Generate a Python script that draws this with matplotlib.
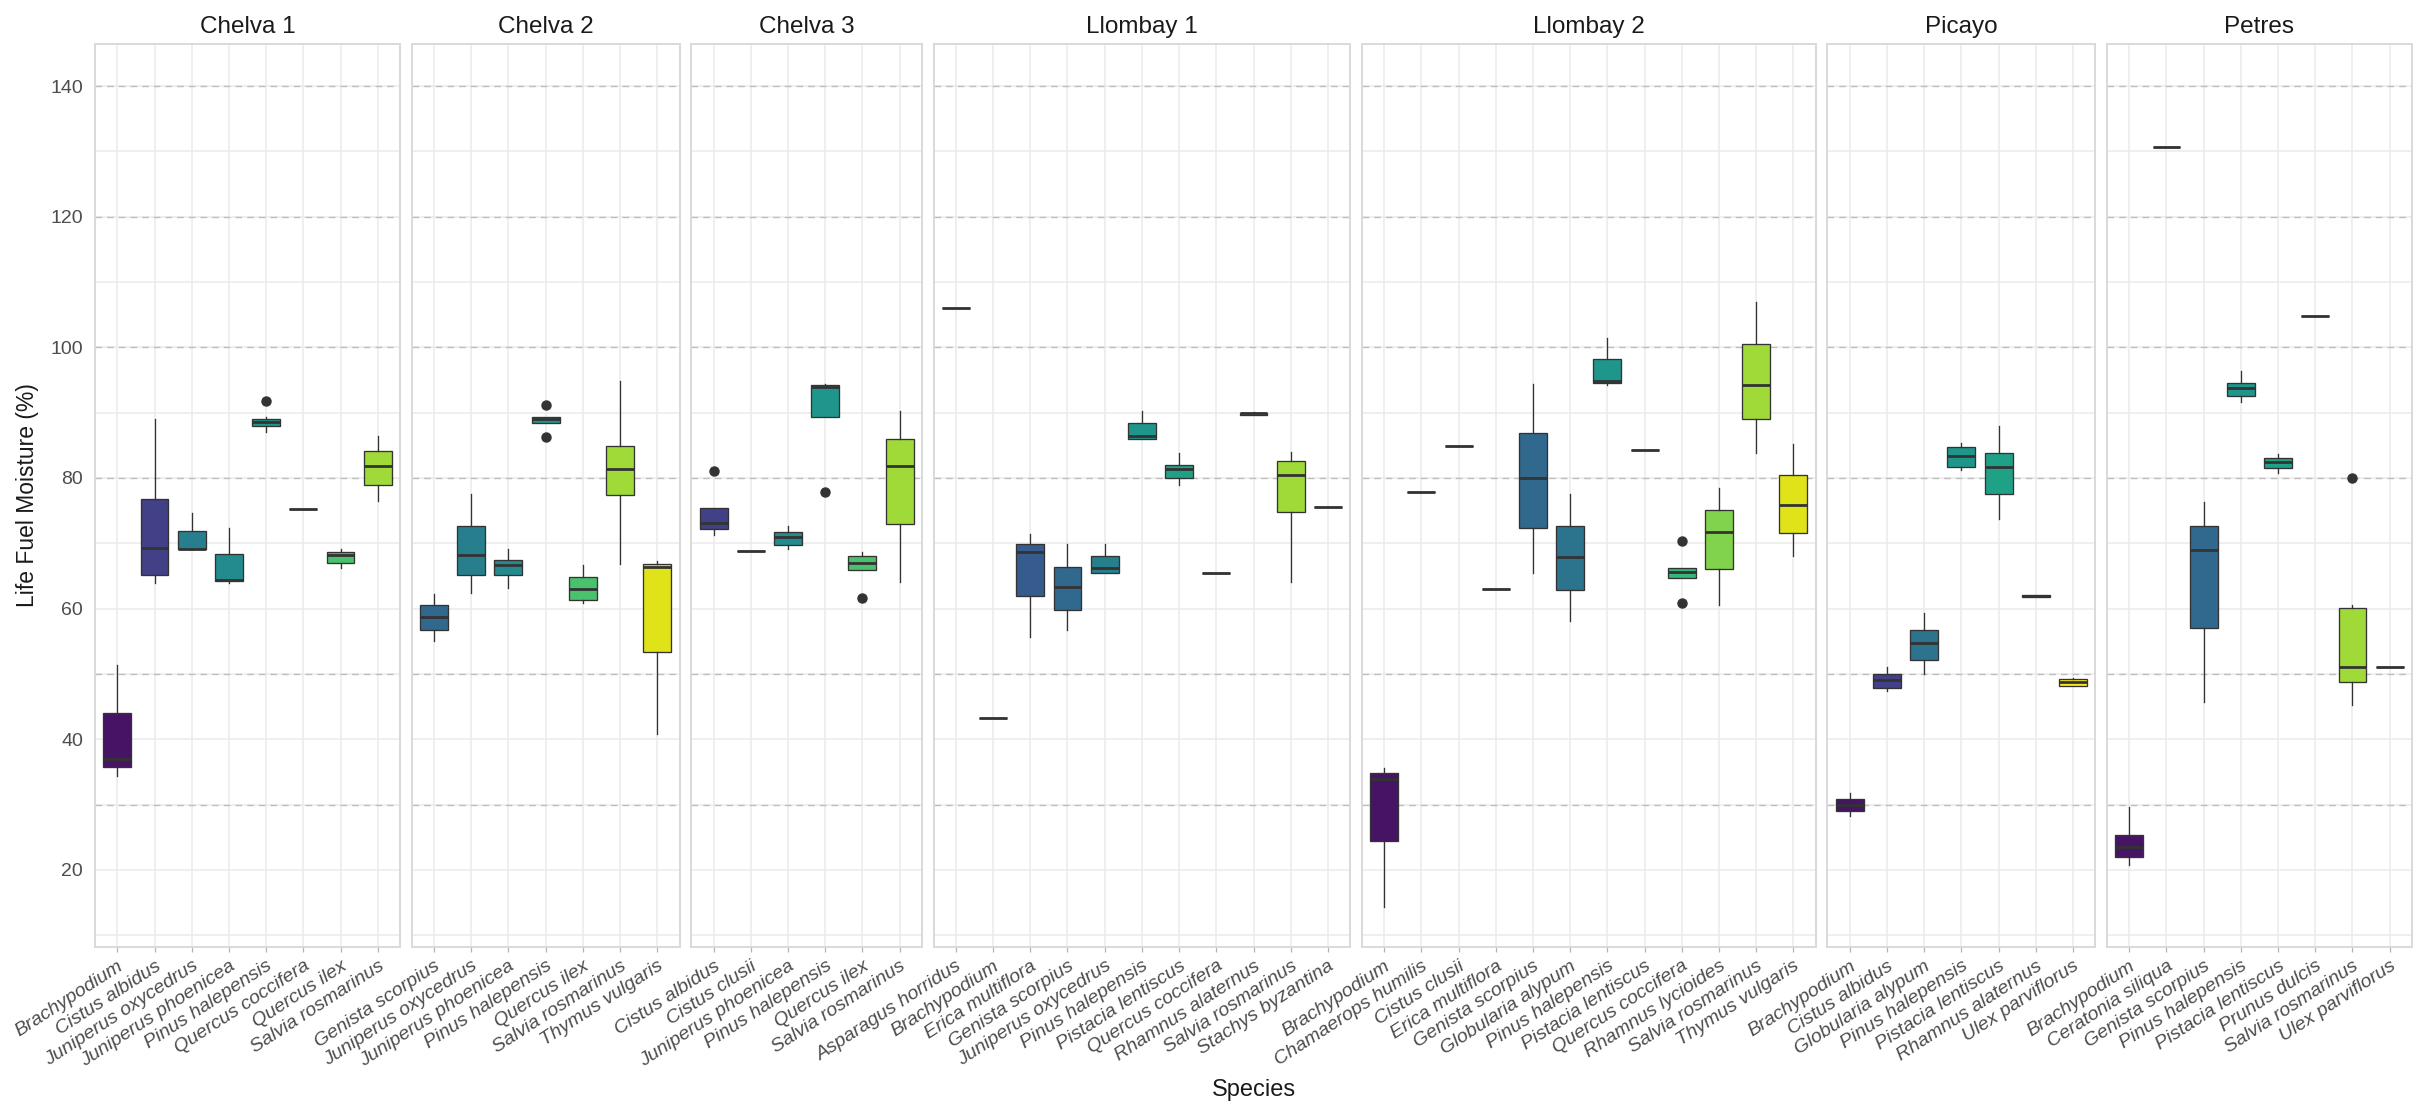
import matplotlib.pyplot as plt
from matplotlib import colormaps

plt.rcParams['font.family'] = ['Liberation Sans', 'DejaVu Sans']

# (species, whisker low, q1, median, q3, whisker high, outliers)
chelva1 = [
    ("Brachypodium", 34.4, 35.7, 37.0, 44.0, 51.3, []),
    ("Cistus albidus", 63.9, 65.2, 69.3, 76.8, 89.1, []),
    ("Juniperus oxycedrus", 69.1, 69.2, 69.2, 71.9, 74.7, []),
    ("Juniperus phoenicea", 64.0, 64.2, 64.4, 68.4, 72.4, []),
    ("Pinus halepensis", 87.1, 87.9, 88.5, 89.1, 89.3, [91.8]),
    ("Quercus coccifera", 75.2, 75.2, 75.2, 75.2, 75.2, []),
    ("Quercus ilex", 66.2, 67.0, 68.2, 68.7, 69.2, []),
    ("Salvia rosmarinus", 76.5, 79.0, 81.9, 84.2, 86.4, []),
]
chelva2 = [
    ("Genista scorpius", 55.1, 56.8, 58.7, 60.6, 62.2, []),
    ("Juniperus oxycedrus", 62.4, 65.2, 68.2, 72.6, 77.5, []),
    ("Juniperus phoenicea", 63.2, 65.2, 66.7, 67.4, 69.2, []),
    ("Pinus halepensis", 88.4, 88.4, 89.0, 89.4, 89.4, [91.1, 86.2]),
    ("Quercus ilex", 60.9, 61.3, 63.0, 64.9, 66.7, []),
    ("Salvia rosmarinus", 66.9, 77.4, 81.3, 84.9, 94.9, []),
    ("Thymus vulgaris", 40.8, 53.4, 66.3, 66.9, 67.3, []),
]
chelva3 = [
    ("Cistus albidus", 71.3, 72.2, 73.1, 75.4, 75.4, [81.1]),
    ("Cistus clusii", 68.8, 68.8, 68.8, 68.8, 68.8, []),
    ("Juniperus phoenicea", 69.1, 69.8, 70.9, 71.7, 72.6, []),
    ("Pinus halepensis", 89.3, 89.3, 94.0, 94.2, 94.4, [77.8]),
    ("Quercus ilex", 65.9, 65.9, 67.0, 68.0, 68.7, [61.6]),
    ("Salvia rosmarinus", 64.1, 72.9, 81.9, 86.0, 90.2, []),
]
llombay1 = [
    ("Asparagus horridus", 106.0, 106.0, 106.0, 106.0, 106.0, []),
    ("Brachypodium", 43.2, 43.2, 43.2, 43.2, 43.2, []),
    ("Erica multiflora", 55.7, 62.0, 68.6, 69.9, 71.4, []),
    ("Genista scorpius", 56.7, 59.8, 63.3, 66.4, 69.9, []),
    ("Juniperus oxycedrus", 65.5, 65.5, 66.2, 68.0, 69.9, []),
    ("Pinus halepensis", 85.9, 85.9, 86.4, 88.4, 90.3, []),
    ("Pistacia lentiscus", 78.9, 80.0, 81.3, 82.0, 83.8, []),
    ("Quercus coccifera", 65.4, 65.4, 65.4, 65.4, 65.4, []),
    ("Rhamnus alaternus", 89.7, 89.7, 89.9, 90.0, 90.1, []),
    ("Salvia rosmarinus", 64.1, 74.8, 80.4, 82.6, 84.0, []),
    ("Stachys byzantina", 75.5, 75.5, 75.5, 75.5, 75.5, []),
]
llombay2 = [
    ("Brachypodium", 14.4, 24.4, 33.9, 34.9, 35.6, []),
    ("Chamaerops humilis", 77.9, 77.9, 77.9, 77.9, 77.9, []),
    ("Cistus clusii", 84.9, 84.9, 84.9, 84.9, 84.9, []),
    ("Erica multiflora", 63.0, 63.0, 63.0, 63.0, 63.0, []),
    ("Genista scorpius", 65.5, 72.4, 80.0, 86.9, 94.4, []),
    ("Globularia alypum", 58.1, 62.9, 67.9, 72.6, 77.5, []),
    ("Pinus halepensis", 94.2, 94.5, 94.9, 98.2, 101.5, []),
    ("Pistacia lentiscus", 84.3, 84.3, 84.3, 84.3, 84.3, []),
    ("Quercus coccifera", 64.7, 64.7, 65.6, 66.2, 66.2, [70.4, 60.8]),
    ("Rhamnus lycioides", 60.6, 66.0, 71.8, 75.1, 78.4, []),
    ("Salvia rosmarinus", 83.9, 89.0, 94.3, 100.5, 107.0, []),
    ("Thymus vulgaris", 68.0, 71.6, 75.9, 80.5, 85.2, []),
]
picayo = [
    ("Brachypodium", 28.2, 29.0, 29.9, 30.9, 31.8, []),
    ("Cistus albidus", 47.4, 47.9, 49.0, 50.0, 51.1, []),
    ("Globularia alypum", 50.0, 52.2, 54.8, 56.8, 59.3, []),
    ("Pinus halepensis", 81.2, 81.7, 83.4, 84.7, 85.4, []),
    ("Pistacia lentiscus", 73.7, 77.5, 81.7, 83.9, 87.9, []),
    ("Rhamnus alaternus", 61.8, 61.8, 62.0, 62.1, 62.1, []),
    ("Ulex parviflorus", 48.2, 48.2, 48.7, 49.2, 49.4, []),
]
petres = [
    ("Brachypodium", 20.7, 22.0, 23.5, 25.3, 29.6, []),
    ("Ceratonia siliqua", 130.7, 130.7, 130.7, 130.7, 130.7, []),
    ("Genista scorpius", 45.7, 57.0, 68.9, 72.6, 76.3, []),
    ("Pinus halepensis", 91.6, 92.6, 93.7, 94.5, 96.4, []),
    ("Pistacia lentiscus", 80.8, 81.5, 82.5, 83.0, 83.6, []),
    ("Prunus dulcis", 104.8, 104.8, 104.8, 104.8, 104.8, []),
    ("Salvia rosmarinus", 45.2, 48.7, 51.1, 60.1, 60.6, [80.0]),
    ("Ulex parviflorus", 51.1, 51.1, 51.1, 51.1, 51.1, []),
]

sites = ["Chelva 1", "Chelva 2", "Chelva 3", "Llombay 1", "Llombay 2", "Picayo", "Petres"]
site_data = [chelva1, chelva2, chelva3, llombay1, llombay2, picayo, petres]
ref_lines = [30, 50, 80, 100, 120, 140]

all_species = sorted({row[0] for data in site_data for row in data})
cmap = colormaps['viridis']
colors = {sp: cmap(i / (len(all_species) - 1)) for i, sp in enumerate(all_species)}

fig = plt.figure(figsize=(24.2, 11.1), dpi=100)
gs = fig.add_gridspec(1, len(sites), width_ratios=[len(d) + 0.2 for d in site_data],
                      left=95 / 2420, right=2412 / 2420, bottom=1 - 947 / 1110,
                      top=1 - 43.6 / 1110, wspace=0.0364)

dark = '#333333'
for k, (site, data) in enumerate(zip(sites, site_data)):
    ax = fig.add_subplot(gs[0, k])
    names = [r[0] for r in data]
    stats = [dict(label=r[0], whislo=r[1], q1=r[2], med=r[3], q3=r[4], whishi=r[5], fliers=r[6])
             for r in data]
    pos = list(range(1, len(data) + 1))
    bp = ax.bxp(stats, positions=pos, widths=0.75, patch_artist=True, showcaps=False,
                boxprops=dict(edgecolor=dark, linewidth=0.95),
                medianprops=dict(color=dark, linewidth=2.0),
                whiskerprops=dict(color=dark, linewidth=0.95),
                flierprops=dict(marker='o', markerfacecolor=dark, markeredgecolor=dark,
                                markersize=6.5))
    for patch, sp in zip(bp['boxes'], names):
        patch.set_facecolor(colors[sp])

    for y in ref_lines:
        ax.axhline(y, color='#BEBEBE', linewidth=1.0, linestyle=(0, (4.8, 3.6)), zorder=0.9)

    ax.set_xlim(0.4, len(data) + 0.6)
    ax.set_ylim(8.2, 146.5)
    ax.set_yticks(range(20, 141, 20))
    ax.set_yticks(range(10, 141, 20), minor=True)
    ax.set_xticks(pos)
    ax.set_xticklabels(names, rotation=33, ha='right', va='top', rotation_mode='anchor',
                       style='italic', fontsize=14, color='#4D4D4D')
    ax.set_axisbelow(True)
    ax.grid(True, which='both', color='#EBEBEB', linewidth=1.1)
    ax.tick_params(axis='x', length=3.6, width=0.9, color='#B3B3B3', pad=4)
    ax.tick_params(axis='y', which='both', length=0, pad=8.5, labelsize=14, labelcolor='#4D4D4D')
    if k > 0:
        ax.tick_params(axis='y', labelleft=False)
    for s in ax.spines.values():
        s.set_color('#D9D9D9')
        s.set_linewidth(1.4)
    ax.set_title(site, fontsize=17.5, color='#1A1A1A', pad=7.5)
    if k == 0:
        ax.set_ylabel('Life Fuel Moisture (%)', fontsize=16.5, color='#1A1A1A', labelpad=8)

fig.text((95 + 2412) / 2 / 2420, 1 - 1090 / 1110, 'Species', fontsize=17, color='#1A1A1A',
         ha='center', va='center')

plt.savefig('out.png', dpi=100)
